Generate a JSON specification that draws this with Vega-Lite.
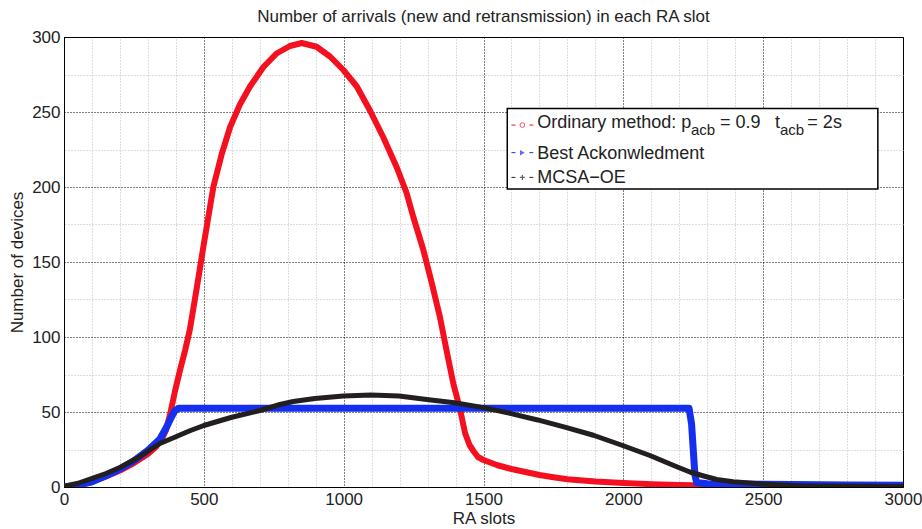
{
  "$schema": "https://vega.github.io/schema/vega-lite/v6.json",
  "width": 839,
  "height": 450,
  "autosize": "none",
  "padding": {"left": 64, "top": 37, "right": 19, "bottom": 42},
  "background": "white",
  "config": {
    "view": {"stroke": "#000", "strokeWidth": 1},
    "font": "Liberation Sans"
  },
  "title": {"text": "Number of arrivals (new and retransmission) in each RA slot", "fontSize": 17, "fontWeight": "normal", "font": "Liberation Sans", "color": "#222", "offset": 2},
  "resolve": {"axis": {"x": "independent", "y": "independent"}},
  "datasets": {
    "curves": [
      {"s":"ord","x":0,"y":0},{"s":"ord","x":50,"y":1},{"s":"ord","x":100,"y":3.5},{"s":"ord","x":150,"y":7},{"s":"ord","x":200,"y":11},{"s":"ord","x":250,"y":16},{"s":"ord","x":300,"y":22},{"s":"ord","x":330,"y":27},{"s":"ord","x":350,"y":32},{"s":"ord","x":365,"y":38},{"s":"ord","x":380,"y":49},{"s":"ord","x":397,"y":64},{"s":"ord","x":415,"y":78},{"s":"ord","x":433,"y":91},{"s":"ord","x":450,"y":105},{"s":"ord","x":475,"y":133},{"s":"ord","x":500,"y":162},{"s":"ord","x":534,"y":200},{"s":"ord","x":564,"y":222},{"s":"ord","x":594,"y":240},{"s":"ord","x":629,"y":255},{"s":"ord","x":665,"y":267},{"s":"ord","x":713,"y":280},{"s":"ord","x":760,"y":289},{"s":"ord","x":808,"y":294},{"s":"ord","x":850,"y":296},{"s":"ord","x":903,"y":293.5},{"s":"ord","x":951,"y":287},{"s":"ord","x":999,"y":278},{"s":"ord","x":1047,"y":267},{"s":"ord","x":1094,"y":251},{"s":"ord","x":1142,"y":233},{"s":"ord","x":1190,"y":213},{"s":"ord","x":1225,"y":196},{"s":"ord","x":1249,"y":180},{"s":"ord","x":1285,"y":158},{"s":"ord","x":1315,"y":136},{"s":"ord","x":1344,"y":113.5},{"s":"ord","x":1368,"y":91},{"s":"ord","x":1392,"y":69},{"s":"ord","x":1416,"y":52},{"s":"ord","x":1434,"y":36},{"s":"ord","x":1450,"y":28},{"s":"ord","x":1464,"y":24},{"s":"ord","x":1480,"y":20},{"s":"ord","x":1500,"y":18},{"s":"ord","x":1550,"y":14.5},{"s":"ord","x":1600,"y":12},{"s":"ord","x":1650,"y":10},{"s":"ord","x":1700,"y":8},{"s":"ord","x":1750,"y":6.5},{"s":"ord","x":1800,"y":5.2},{"s":"ord","x":1900,"y":3.6},{"s":"ord","x":2000,"y":2.6},{"s":"ord","x":2100,"y":1.9},{"s":"ord","x":2200,"y":1.4},{"s":"ord","x":2300,"y":1},{"s":"ord","x":2400,"y":0.7},{"s":"ord","x":2500,"y":0.5},{"s":"ord","x":2700,"y":0.3},{"s":"ord","x":3000,"y":0.1},
      {"s":"best","x":0,"y":0},{"s":"best","x":50,"y":1.2},{"s":"best","x":100,"y":3.5},{"s":"best","x":150,"y":7.5},{"s":"best","x":200,"y":12},{"s":"best","x":250,"y":17.5},{"s":"best","x":300,"y":24.5},{"s":"best","x":343,"y":32},{"s":"best","x":367,"y":40},{"s":"best","x":385,"y":47},{"s":"best","x":397,"y":51},{"s":"best","x":410,"y":52.5},{"s":"best","x":2235,"y":52.5},{"s":"best","x":2244,"y":42},{"s":"best","x":2250,"y":25},{"s":"best","x":2256,"y":8},{"s":"best","x":2262,"y":3},{"s":"best","x":2300,"y":2.2},{"s":"best","x":2500,"y":1.8},{"s":"best","x":2800,"y":1.4},{"s":"best","x":3000,"y":1.2},
      {"s":"mcsa","x":0,"y":0.5},{"s":"mcsa","x":50,"y":2.5},{"s":"mcsa","x":101,"y":5.8},{"s":"mcsa","x":150,"y":9},{"s":"mcsa","x":200,"y":13},{"s":"mcsa","x":260,"y":19},{"s":"mcsa","x":301,"y":24},{"s":"mcsa","x":343,"y":29},{"s":"mcsa","x":400,"y":33.5},{"s":"mcsa","x":450,"y":37.5},{"s":"mcsa","x":500,"y":41},{"s":"mcsa","x":600,"y":46.5},{"s":"mcsa","x":701,"y":51},{"s":"mcsa","x":772,"y":55},{"s":"mcsa","x":820,"y":57},{"s":"mcsa","x":897,"y":59},{"s":"mcsa","x":999,"y":60.7},{"s":"mcsa","x":1098,"y":61.3},{"s":"mcsa","x":1198,"y":60.7},{"s":"mcsa","x":1297,"y":58.4},{"s":"mcsa","x":1396,"y":56.2},{"s":"mcsa","x":1496,"y":53.1},{"s":"mcsa","x":1595,"y":49.1},{"s":"mcsa","x":1694,"y":44.7},{"s":"mcsa","x":1794,"y":39.8},{"s":"mcsa","x":1893,"y":34.5},{"s":"mcsa","x":2000,"y":27.5},{"s":"mcsa","x":2095,"y":21},{"s":"mcsa","x":2191,"y":13.5},{"s":"mcsa","x":2238,"y":10},{"s":"mcsa","x":2294,"y":7},{"s":"mcsa","x":2334,"y":5},{"s":"mcsa","x":2393,"y":3.5},{"s":"mcsa","x":2495,"y":2},{"s":"mcsa","x":2560,"y":1.3},{"s":"mcsa","x":2632,"y":0.8},{"s":"mcsa","x":3000,"y":0.3}
    ],
    "box": [{"x":1585,"x2":2910,"y":252.4,"y2":198.7}],
    "keys": [
      {"s":"ord","x":1600,"x2":1678,"xm":1639,"y":241.3},
      {"s":"best","x":1600,"x2":1678,"xm":1639,"y":222.9},
      {"s":"mcsa","x":1600,"x2":1678,"xm":1639,"y":206.4}
    ],
    "mainText": [
      {"t":"Ordinary method: p","x":1692,"y":239.1},
      {"t":"= 0.9","x":2346,"y":239.1},
      {"t":"t","x":2542,"y":239.1},
      {"t":"= 2s","x":2658,"y":239.1},
      {"t":"Best Ackonwledment","x":1692,"y":218.4},
      {"t":"MCSA\u2212OE","x":1692,"y":202.9}
    ],
    "subText": [
      {"t":"acb","x":2242,"y":234.5},
      {"t":"acb","x":2560,"y":234.5}
    ]
  },
  "layer": [
    {
      "data": {"name": "curves"},
      "transform": [{"filter": "datum.s === 'ord'"}],
      "mark": {"type": "line", "color": "#f51020", "strokeWidth": 6, "strokeJoin": "round", "strokeCap": "round", "clip": true},
      "encoding": {
        "x": {"field": "x", "type": "quantitative", "scale": {"domain": [0, 3000], "nice": false, "zero": false},
          "axis": {
            "orient": "top", "title": null, "labels": false, "domain": false, "ticks": false, "tickSize": 0,
            "values": [100,200,300,400,600,700,800,900,1100,1200,1300,1400,1600,1700,1800,1900,2100,2200,2300,2400,2600,2700,2800,2900],
            "grid": true, "gridColor": "#bdbdbd", "gridDash": [1, 2], "gridWidth": 1
          }},
        "y": {"field": "y", "type": "quantitative", "scale": {"domain": [0, 300], "nice": false},
          "axis": {
            "orient": "right", "title": null, "labels": false, "domain": false, "ticks": false, "tickSize": 0,
            "values": [25,75,125,175,225,275],
            "grid": true, "gridColor": "#bdbdbd", "gridDash": [1, 2], "gridWidth": 1
          }}
      }
    },
    {
      "data": {"name": "curves"},
      "transform": [{"filter": "datum.s === 'best'"}],
      "mark": {"type": "line", "color": "#1430ee", "strokeWidth": 7, "strokeJoin": "round", "strokeCap": "round", "clip": true},
      "encoding": {
        "x": {"field": "x", "type": "quantitative", "scale": {"domain": [0, 3000], "nice": false, "zero": false},
          "axis": {
            "orient": "bottom",
            "title": "RA slots", "titleFontSize": 17, "titleFontWeight": "normal", "titleColor": "#222", "titlePadding": 3, "titleFont": "Liberation Sans",
            "values": [0,500,1000,1500,2000,2500,3000],
            "format": "d",
            "labelFontSize": 17, "labelColor": "#222", "labelPadding": 4, "labelFont": "Liberation Sans",
            "ticks": false, "tickSize": 0,
            "domainColor": "#000", "domainWidth": 1,
            "grid": true, "gridColor": "#000", "gridDash": [1, 2], "gridWidth": 1,
            "labelFlush": false, "labelOverlap": false
          }},
        "y": {"field": "y", "type": "quantitative", "scale": {"domain": [0, 300], "nice": false},
          "axis": {
            "orient": "left",
            "title": "Number of devices", "titleFontSize": 17, "titleFontWeight": "normal", "titleColor": "#222", "titlePadding": 5, "titleFont": "Liberation Sans",
            "values": [0,50,100,150,200,250,300],
            "labelFontSize": 17, "labelColor": "#222", "labelPadding": 4, "labelFont": "Liberation Sans",
            "ticks": false, "tickSize": 0,
            "domainColor": "#000", "domainWidth": 1,
            "grid": true, "gridColor": "#000", "gridDash": [1, 2], "gridWidth": 1,
            "labelFlush": false, "labelOverlap": false
          }}
      }
    },
    {
      "data": {"name": "curves"},
      "transform": [{"filter": "datum.s === 'mcsa'"}],
      "mark": {"type": "line", "color": "#231f20", "strokeWidth": 5, "strokeJoin": "round", "strokeCap": "round", "clip": true},
      "encoding": {"x": {"field": "x", "type": "quantitative", "axis": null}, "y": {"field": "y", "type": "quantitative", "axis": null}}
    },
    {
      "data": {"name": "box"},
      "mark": {"type": "rect", "fill": "white", "stroke": "#000", "strokeWidth": 1.5},
      "encoding": {"x": {"field": "x", "type": "quantitative", "axis": null}, "x2": {"field": "x2"}, "y": {"field": "y", "type": "quantitative", "axis": null}, "y2": {"field": "y2"}}
    },
    {
      "data": {"name": "keys"},
      "mark": {"type": "rule", "strokeDash": [4, 14], "strokeWidth": 1},
      "encoding": {
        "x": {"field": "x", "type": "quantitative", "axis": null}, "x2": {"field": "x2"}, "y": {"field": "y", "type": "quantitative", "axis": null},
        "color": {"field": "s", "type": "nominal", "scale": {"domain": ["ord", "best", "mcsa"], "range": ["#f51020", "#1430ee", "#231f20"]}, "legend": null}
      }
    },
    {
      "data": {"name": "keys"},
      "transform": [{"filter": "datum.s === 'ord'"}],
      "mark": {"type": "point", "shape": "circle", "filled": false, "color": "#f51020", "size": 22, "strokeWidth": 1},
      "encoding": {"x": {"field": "xm", "type": "quantitative", "axis": null}, "y": {"field": "y", "type": "quantitative", "axis": null}}
    },
    {
      "data": {"name": "keys"},
      "transform": [{"filter": "datum.s === 'best'"}],
      "mark": {"type": "point", "shape": "triangle-right", "filled": true, "color": "#1430ee", "size": 30},
      "encoding": {"x": {"field": "xm", "type": "quantitative", "axis": null}, "y": {"field": "y", "type": "quantitative", "axis": null}}
    },
    {
      "data": {"name": "keys"},
      "transform": [{"filter": "datum.s === 'mcsa'"}],
      "mark": {"type": "point", "shape": "M-1,0L1,0M0,-1L0,1", "filled": false, "color": "#231f20", "size": 25, "strokeWidth": 1.2},
      "encoding": {"x": {"field": "xm", "type": "quantitative", "axis": null}, "y": {"field": "y", "type": "quantitative", "axis": null}}
    },
    {
      "data": {"name": "mainText"},
      "mark": {"type": "text", "align": "left", "baseline": "alphabetic", "fontSize": 18, "font": "Liberation Sans", "color": "#222"},
      "encoding": {"x": {"field": "x", "type": "quantitative", "axis": null}, "y": {"field": "y", "type": "quantitative", "axis": null}, "text": {"field": "t"}}
    },
    {
      "data": {"name": "subText"},
      "mark": {"type": "text", "align": "left", "baseline": "alphabetic", "fontSize": 15, "font": "Liberation Sans", "color": "#222"},
      "encoding": {"x": {"field": "x", "type": "quantitative", "axis": null}, "y": {"field": "y", "type": "quantitative", "axis": null}, "text": {"field": "t"}}
    }
  ]
}
